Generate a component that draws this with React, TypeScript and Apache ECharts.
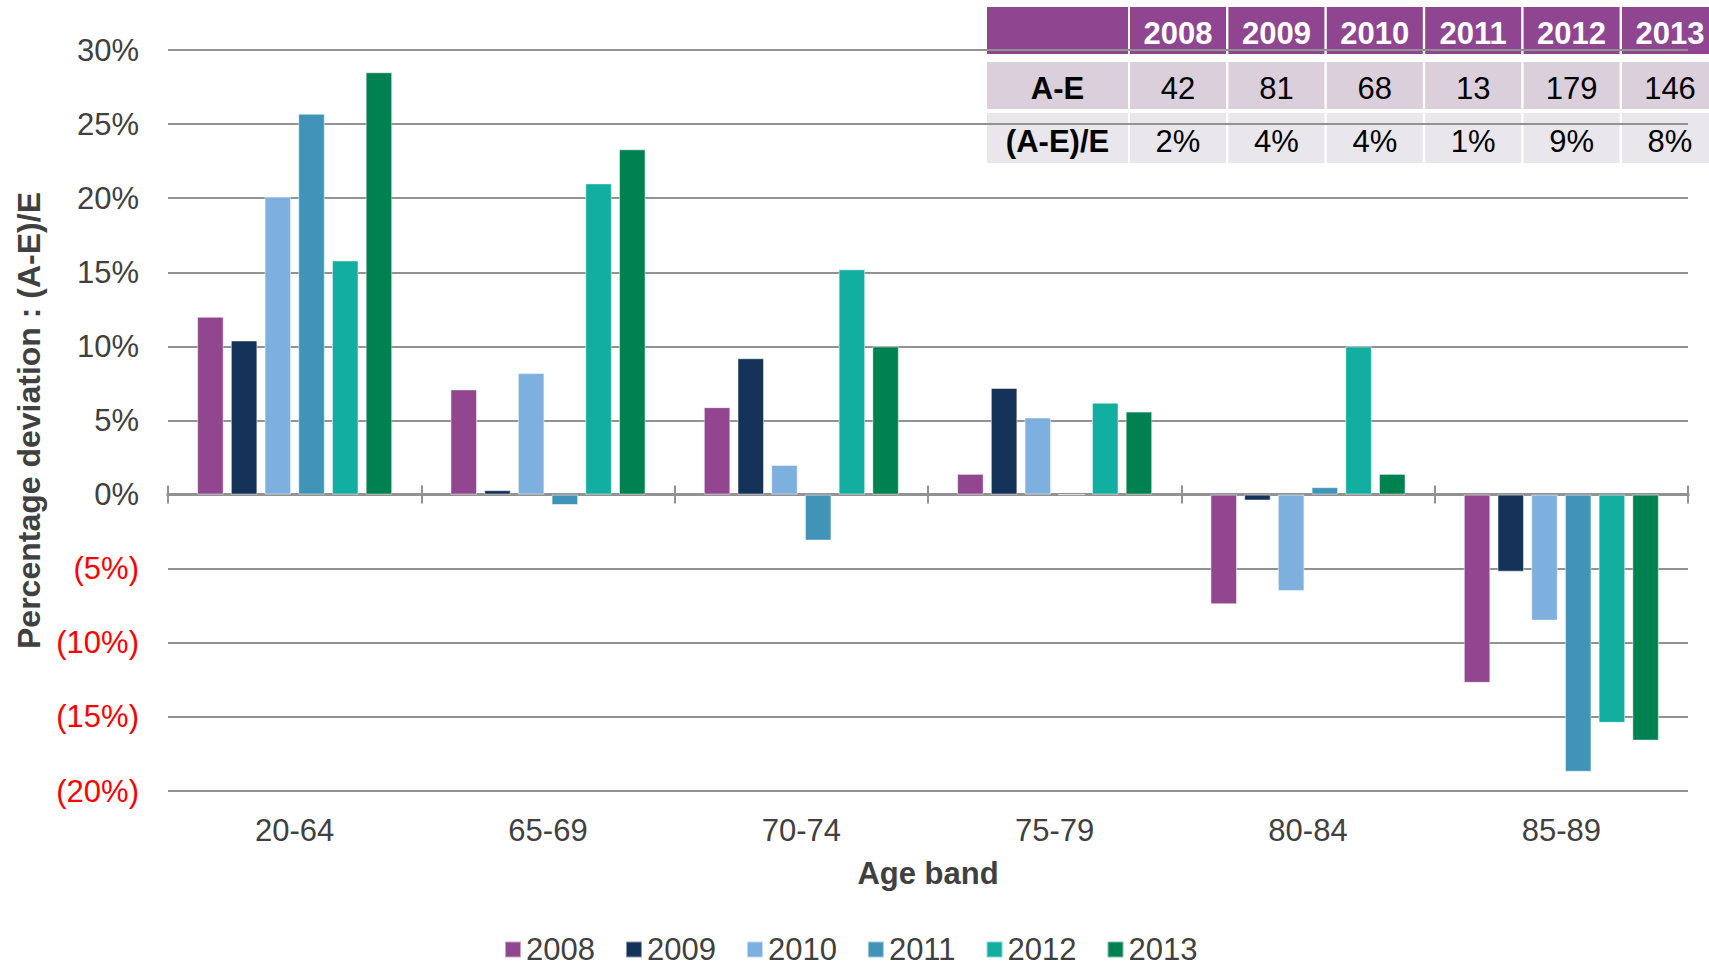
import React, { useEffect, useRef } from "react";
import * as echarts from "echarts";

const ageBands = ["20-64", "65-69", "70-74", "75-79", "80-84", "85-89"];
const years = ["2008", "2009", "2010", "2011", "2012", "2013"];
const s2008 = [12.0, 7.1, 5.9, 1.4, -7.4, -12.7];
const s2009 = [10.4, 0.3, 9.2, 7.2, -0.4, -5.2];
const s2010 = [20.1, 8.2, 2.0, 5.2, -6.5, -8.5];
const s2011 = [25.7, -0.7, -3.1, 0, 0.5, -18.7];
const s2012 = [15.8, 21.0, 15.2, 6.2, 10.0, -15.4];
const s2013 = [28.5, 23.3, 10.0, 5.6, 1.4, -16.6];
const seriesValues = [s2008, s2009, s2010, s2011, s2012, s2013];
const colors = ["#924690", "#153359", "#7DB0DE", "#4193B8", "#12AFA0", "#008250"];

const tableRowLabels = ["A-E", "(A-E)/E"];
const aeValues = ["42", "81", "68", "13", "179", "146"];
const aeRatios = ["2%", "4%", "4%", "1%", "9%", "8%"];

const FONT = "'Liberation Sans', Arial, sans-serif";
const GREY = "#404040";
const GRID_GREY = "#929292";

function buildTable() {
  const children: any[] = [];
  const left = 987;
  const firstW = 141;
  const colX0 = 1130;
  const pitch = 98.4;
  const colW = 96;
  const rows = [
    { y: 7, h: 47, fill: "#904590" },
    { y: 62, h: 47, fill: "#DACFDA" },
    { y: 113, h: 50, fill: "#E9E7EB" },
  ];
  children.push({ type: "rect", shape: { x: 983, y: 3, width: 740, height: 164 }, style: { fill: "#ffffff" } });
  rows.forEach((r, ri) => {
    children.push({ type: "rect", shape: { x: left, y: r.y, width: firstW, height: r.h }, style: { fill: r.fill } });
    for (let c = 0; c < years.length; c++) {
      children.push({
        type: "rect",
        shape: { x: colX0 + c * pitch, y: r.y, width: colW, height: r.h },
        style: { fill: r.fill },
      });
    }
    const cy = r.y + r.h / 2 + 3;
    if (ri > 0) {
      children.push({
        type: "text",
        x: left + firstW / 2,
        y: cy,
        style: {
          text: tableRowLabels[ri - 1],
          fill: "#000",
          font: `bold 31px ${FONT}`,
          textAlign: "center",
          textVerticalAlign: "middle",
        },
      });
    }
    for (let c = 0; c < years.length; c++) {
      const txt = ri === 0 ? years[c] : ri === 1 ? aeValues[c] : aeRatios[c];
      children.push({
        type: "text",
        x: colX0 + c * pitch + colW / 2,
        y: cy,
        style: {
          text: txt,
          fill: ri === 0 ? "#ffffff" : "#000000",
          font: `${ri === 0 ? "bold " : ""}31px ${FONT}`,
          textAlign: "center",
          textVerticalAlign: "middle",
        },
      });
    }
  });
  return { type: "group", z: 100, children };
}

export default function App() {
  const ref = useRef<HTMLDivElement>(null);
  useEffect(() => {
    if (!ref.current) return;
    const chart = echarts.init(ref.current, null, { renderer: "svg" });
    const baseCat = {
      type: "category",
      data: ageBands,
    };
    chart.setOption({
      animation: false,
      backgroundColor: "#ffffff",
      textStyle: { fontFamily: FONT },
      grid: { left: 168, right: 21, top: 50, bottom: 175, containLabel: false },
      legend: {
        data: years,
        left: 504,
        top: 934,
        padding: 0,
        icon: "rect",
        itemWidth: 16,
        itemHeight: 16,
        itemGap: 30,
        textStyle: { fontSize: 31, color: GREY, fontFamily: FONT },
      },
      xAxis: [
        {
          ...baseCat,
          position: "bottom",
          axisLine: { show: false, onZero: false },
          axisTick: { show: false },
          axisLabel: { fontSize: 31, color: GREY, margin: 24, fontFamily: FONT },
          name: "Age band",
          nameLocation: "middle",
          nameGap: 67,
          nameTextStyle: { fontSize: 31, fontWeight: "bold", color: GREY, fontFamily: FONT },
        },
        {
          ...baseCat,
          position: "bottom",
          axisLine: { show: true, onZero: true, onZeroAxisIndex: 0, lineStyle: { color: GRID_GREY, width: 3 } },
          axisTick: { show: true, length: 9, lineStyle: { color: GRID_GREY, width: 2 } },
          axisLabel: { show: false },
        },
        {
          ...baseCat,
          position: "bottom",
          axisLine: { show: true, onZero: true, onZeroAxisIndex: 0, lineStyle: { color: GRID_GREY, width: 3 } },
          axisTick: { show: true, inside: true, length: 9, lineStyle: { color: GRID_GREY, width: 2 } },
          axisLabel: { show: false },
        },
      ],
      yAxis: {
        type: "value",
        min: -20,
        max: 30,
        interval: 5,
        axisLine: { show: false },
        axisTick: { show: false },
        splitLine: { show: true, lineStyle: { color: GRID_GREY, width: 2 } },
        axisLabel: {
          fontSize: 31,
          margin: 29,
          fontFamily: FONT,
          formatter: (v: number) => (v < 0 ? `(${-v}%)` : `${v}%`),
          color: (v: any) => (Number(v) < 0 ? "#FF0000" : GREY),
        },
        name: "Percentage deviation : (A-E)/E",
        nameLocation: "middle",
        nameGap: 123,
        nameTextStyle: { fontSize: 32, fontWeight: "bold", color: GREY, fontFamily: FONT },
      },
      series: years.map((y, i) => ({
        name: y,
        type: "bar",
        data: seriesValues[i],
        barCategoryGap: "23%",
        barGap: "27%",
        itemStyle: { color: colors[i], borderColor: "rgba(255,255,255,0.5)", borderWidth: 1 },
      })),
      graphic: [buildTable()],
    });
    return () => chart.dispose();
  }, []);
  return (
    <div
      ref={ref}
      style={{ position: "fixed", left: 0, top: 0, width: 1709, height: 966, background: "#fff" }}
    />
  );
}
